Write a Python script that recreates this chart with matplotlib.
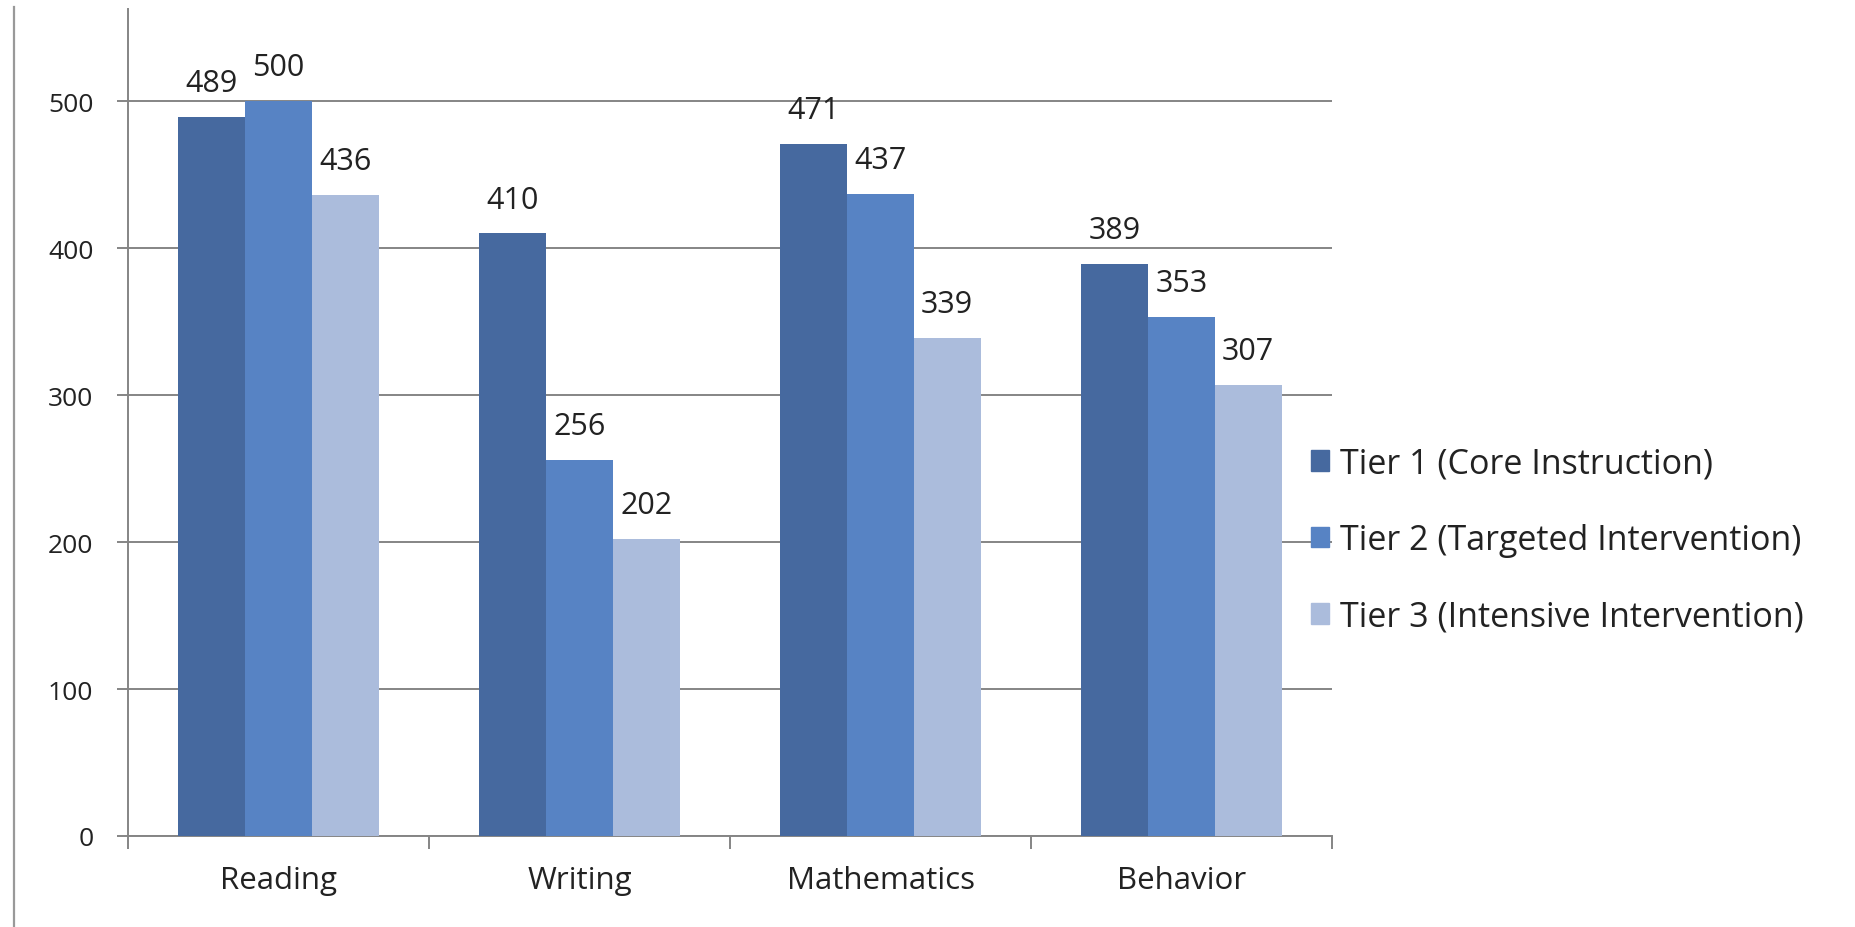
import matplotlib
matplotlib.use("Agg")
import matplotlib.pyplot as plt
import numpy as np
from matplotlib.lines import Line2D

categories = ["Reading", "Writing", "Mathematics", "Behavior"]
series_names = ["Tier 1 (Core Instruction)", "Tier 2 (Targeted Intervention)", "Tier 3 (Intensive Intervention)"]
tier1 = [489, 410, 471, 389]
tier2 = [500, 256, 437, 353]
tier3 = [436, 202, 339, 307]
yticks = [0, 100, 200, 300, 400, 500]

colors = ["#46699F", "#5783C4", "#ABBCDC"]
plt.rcParams['font.family'] = ['Open Sans', 'DejaVu Sans']
txt = "#222222"
grid_c = "#858585"

W, H, DPI = 1855, 928, 100
fig = plt.figure(figsize=(W / DPI, H / DPI), dpi=DPI)
ax = fig.add_axes([128 / W, 1 - 837 / H, (1332 - 128) / W, (837 - 10) / H])

x = np.arange(len(categories))
bw = 0.2215
for i, (vals, name) in enumerate(zip([tier1, tier2, tier3], series_names)):
    bars = ax.bar(x + (i - 1) * bw, vals, width=bw, color=colors[i], label=name, zorder=3)
    ax.bar_label(bars, labels=[str(v) for v in vals], padding=13.5, fontsize=22, color=txt)

ax.set_xlim(-0.5, len(categories) - 0.5)
ax.set_ylim(0, 562.6)
ax.set_yticks(yticks)
ax.set_yticklabels([str(v) for v in yticks])
ax.yaxis.grid(True, color=grid_c, linewidth=1.4, zorder=0)
ax.set_axisbelow(True)

ax.set_xticks(np.arange(-0.5, len(categories), 1.0))
ax.set_xticklabels([])
ax.set_xticks(x, minor=True)
ax.set_xticklabels(categories, minor=True)
ax.tick_params(axis='x', which='major', length=9, width=1.4, color=grid_c, direction='out')
ax.tick_params(axis='x', which='minor', length=0, pad=21, labelsize=22.5, labelcolor=txt)
ax.tick_params(axis='y', length=8, width=1.4, color=grid_c, pad=17, labelsize=19, labelcolor=txt)

for s in ['top', 'right']:
    ax.spines[s].set_visible(False)
for s in ['left', 'bottom']:
    ax.spines[s].set_color(grid_c)
    ax.spines[s].set_linewidth(1.4)

fig.add_artist(Line2D([14 / W, 14 / W], [0, 1 - 8 / H], color="#999999", linewidth=1.6))

handles = [plt.Rectangle((0, 0), 1, 1, color=c) for c in colors]
fig.legend(handles, series_names, loc='center left', bbox_to_anchor=(1280 / W, 1 - 541 / H),
           frameon=False, fontsize=24.5, handlelength=0.55, handleheight=0.55,
           handletextpad=0.3, labelspacing=1.25, labelcolor=txt)

fig.savefig("out.png", dpi=DPI, facecolor="white")
